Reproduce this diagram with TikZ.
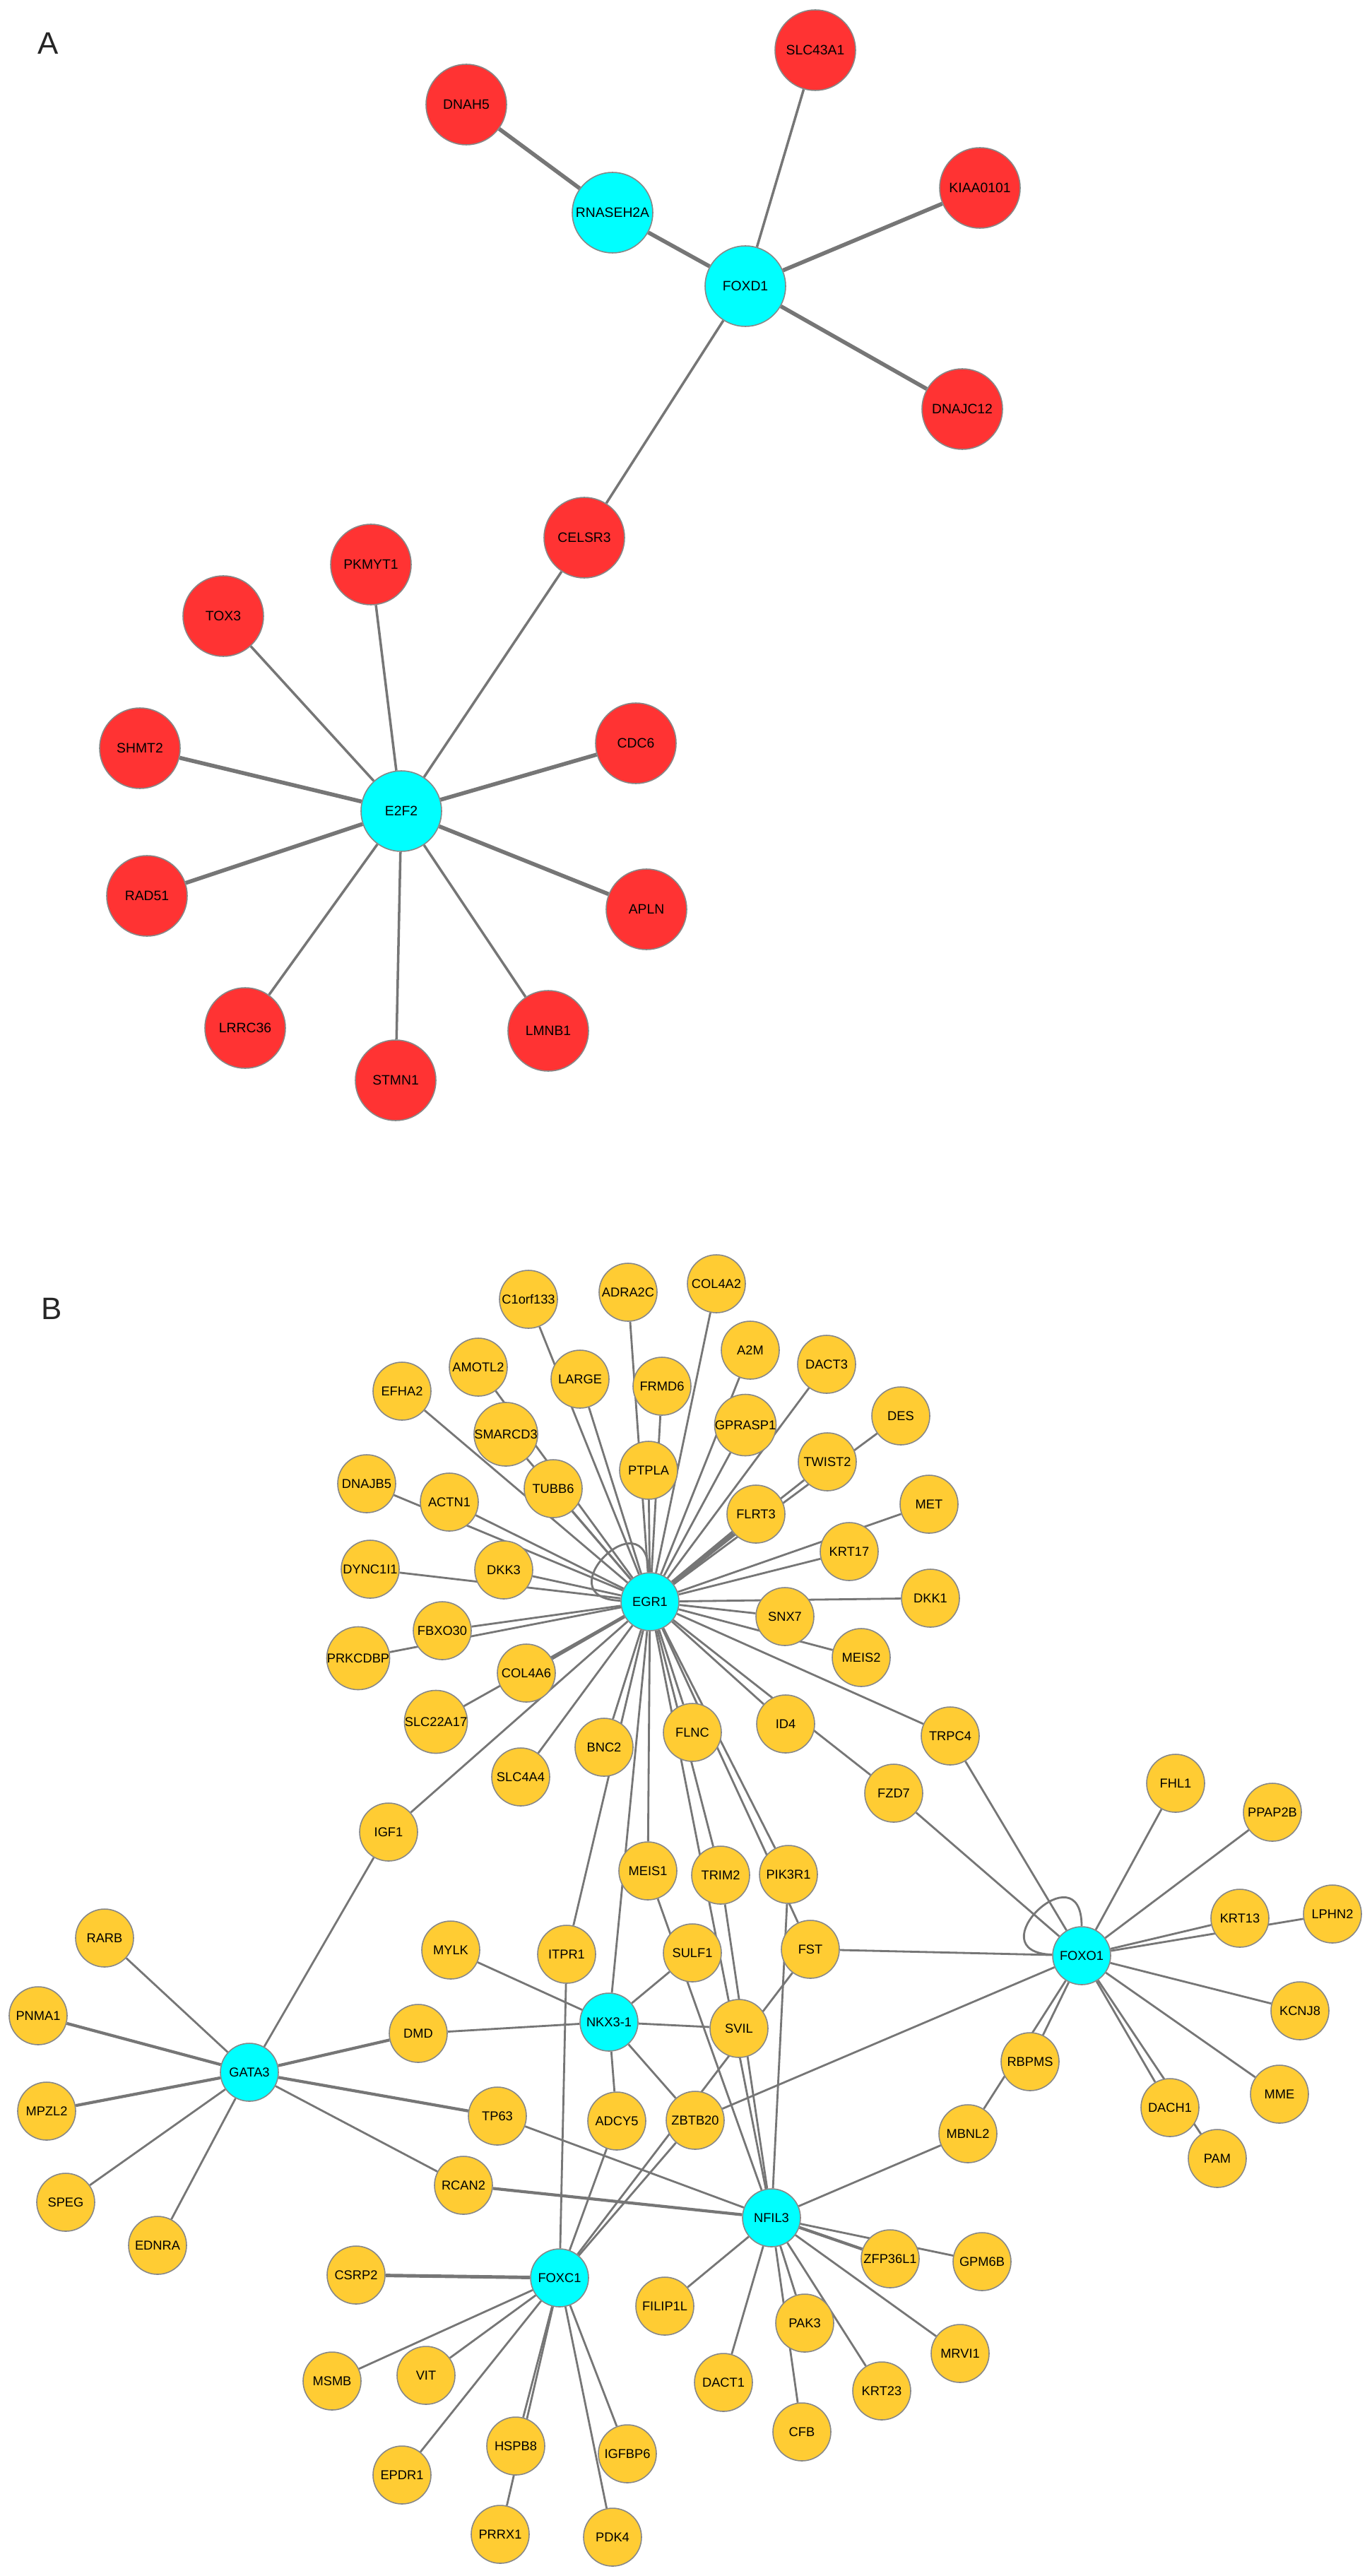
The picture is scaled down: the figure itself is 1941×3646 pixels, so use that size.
\documentclass[tikz,border=0pt]{standalone}
\usepackage{fontspec}
\setmainfont{Liberation Sans}
\usetikzlibrary{backgrounds}

\definecolor{hub}{RGB}{0,255,255}
\definecolor{redgene}{RGB}{255,51,51}
\definecolor{goldgene}{RGB}{255,204,51}
\definecolor{wire}{RGB}{118,118,118}
\definecolor{rim}{RGB}{135,135,135}

\tikzset{
  gene/.style={circle, draw=rim, line width=.45pt, inner sep=0pt, text=black},
  geneA/.style={gene, minimum size=11.4mm, font=\fontsize{5.5}{6}\selectfont},
  geneB/.style={gene, minimum size=8.2mm, font=\fontsize{5.2}{6}\selectfont},
  panel/.style={text=black!85, font=\fontsize{12.5}{14}\selectfont}
}

\begin{document}
\begin{tikzpicture}[x=.1mm,y=-.1mm]

      \node[panel] (labA) at (68,61)   {A};
      \node[panel] (labB) at (73,1852) {B};

      % panel A
      \begin{scope}[every node/.style={geneA, fill=redgene}]
        \node (slc43a1)  at (1154,71)   {SLC43A1};
        \node (dnah5)    at (660,148)   {DNAH5};
        \node (kiaa0101) at (1387,266)  {KIAA0101};
        \node (dnajc12)  at (1362,579)  {DNAJC12};
        \node (celsr3)   at (827,761)   {CELSR3};
        \node (pkmyt1)   at (525,799)   {PKMYT1};
        \node (tox3)     at (316,872)   {TOX3};
        \node (shmt2)    at (198,1059)  {SHMT2};
        \node (cdc6)     at (900,1052)  {CDC6};
        \node (rad51)    at (208,1268)  {RAD51};
        \node (apln)     at (915,1287)  {APLN};
        \node (lrrc36)   at (347,1455)  {LRRC36};
        \node (lmnb1)    at (776,1459)  {LMNB1};
        \node (stmn1)    at (560,1529)  {STMN1};
      \end{scope}
      \begin{scope}[every node/.style={geneA, fill=hub}]
        \node (rnaseh2a) at (867,301)   {RNASEH2A};
        \node (foxd1)    at (1055,405)  {FOXD1};
        \node (e2f2)     at (568,1148)  {E2F2};
      \end{scope}

      % panel B
      \begin{scope}[every node/.style={geneB, fill=hub}]
        \node (egr1)  at (920,2267)  {EGR1};
        \node (foxo1) at (1531,2768) {FOXO1};
        \node (nkx31) at (862,2862)  {NKX3-1};
        \node (gata3) at (353,2933)  {GATA3};
        \node (nfil3) at (1092,3139) {NFIL3};
        \node (foxc1) at (792,3224)  {FOXC1};
      \end{scope}
      \begin{scope}[every node/.style={geneB, fill=goldgene}]
        \node (c1orf133) at (748,1839)  {C1orf133};
        \node (adra2c)   at (889,1829)  {ADRA2C};
        \node (col4a2)   at (1014,1817) {COL4A2};
        \node (a2m)      at (1062,1911) {A2M};
        \node (dact3)    at (1170,1931) {DACT3};
        \node (amotl2)   at (677,1935)  {AMOTL2};
        \node (efha2)    at (569,1969)  {EFHA2};
        \node (large)    at (821,1952)  {LARGE};
        \node (frmd6)    at (937,1962)  {FRMD6};
        \node (smarcd3)  at (716,2030)  {SMARCD3};
        \node (gprasp1)  at (1055,2017) {GPRASP1};
        \node (des)      at (1275,2004) {DES};
        \node (twist2)   at (1171,2069) {TWIST2};
        \node (dnajb5)   at (519,2100)  {DNAJB5};
        \node (actn1)    at (636,2126)  {ACTN1};
        \node (tubb6)    at (783,2107)  {TUBB6};
        \node (ptpla)    at (918,2081)  {PTPLA};
        \node (flrt3)    at (1070,2143) {FLRT3};
        \node (met)      at (1315,2129) {MET};
        \node (krt17)    at (1202,2196) {KRT17};
        \node (dync1i1)  at (524,2221)  {DYNC1I1};
        \node (dkk3)     at (713,2222)  {DKK3};
        \node (dkk1)     at (1317,2262) {DKK1};
        \node (fbxo30)   at (626,2308)  {FBXO30};
        \node (snx7)     at (1111,2288) {SNX7};
        \node (prkcdbp)  at (507,2347)  {PRKCDBP};
        \node (meis2)    at (1219,2346) {MEIS2};
        \node (col4a6)   at (745,2368)  {COL4A6};
        \node (slc22a17) at (617,2437)  {SLC22A17};
        \node (id4)      at (1112,2440) {ID4};
        \node (trpc4)    at (1345,2457) {TRPC4};
        \node (flnc)     at (980,2452)  {FLNC};
        \node (bnc2)     at (855,2473)  {BNC2};
        \node (slc4a4)   at (737,2515)  {SLC4A4};
        \node (fzd7)     at (1265,2538) {FZD7};
        \node (fhl1)     at (1664,2524) {FHL1};
        \node (ppap2b)   at (1801,2565) {PPAP2B};
        \node (igf1)     at (550,2593)  {IGF1};
        \node (meis1)    at (917,2648)  {MEIS1};
        \node (trim2)    at (1020,2654) {TRIM2};
        \node (pik3r1)   at (1116,2653) {PIK3R1};
        \node (krt13)    at (1755,2715) {KRT13};
        \node (lphn2)    at (1886,2709) {LPHN2};
        \node (rarb)     at (148,2743)  {RARB};
        \node (mylk)     at (638,2760)  {MYLK};
        \node (itpr1)    at (802,2766)  {ITPR1};
        \node (sulf1)    at (980,2764)  {SULF1};
        \node (fst)      at (1147,2759) {FST};
        \node (kcnj8)    at (1840,2846) {KCNJ8};
        \node (pnma1)    at (54,2853)   {PNMA1};
        \node (dmd)      at (592,2878)  {DMD};
        \node (svil)     at (1046,2871) {SVIL};
        \node (rbpms)    at (1458,2918) {RBPMS};
        \node (mpzl2)    at (66,2988)   {MPZL2};
        \node (tp63)     at (704,2995)  {TP63};
        \node (adcy5)    at (873,3002)  {ADCY5};
        \node (zbtb20)   at (984,3001)  {ZBTB20};
        \node (mme)      at (1811,2964) {MME};
        \node (dach1)    at (1656,2983) {DACH1};
        \node (mbnl2)    at (1370,3020) {MBNL2};
        \node (pam)      at (1723,3055) {PAM};
        \node (rcan2)    at (656,3093)  {RCAN2};
        \node (speg)     at (93,3117)   {SPEG};
        \node (ednra)    at (223,3178)  {EDNRA};
        \node (zfp36l1)  at (1260,3197) {ZFP36L1};
        \node (gpm6b)    at (1390,3201) {GPM6B};
        \node (csrp2)    at (504,3220)  {CSRP2};
        \node (filip1l)  at (941,3264)  {FILIP1L};
        \node (pak3)     at (1139,3288) {PAK3};
        \node (mrvi1)    at (1359,3331) {MRVI1};
        \node (msmb)     at (470,3370)  {MSMB};
        \node (vit)      at (603,3362)  {VIT};
        \node (dact1)    at (1024,3372) {DACT1};
        \node (krt23)    at (1248,3384) {KRT23};
        \node (cfb)      at (1135,3442) {CFB};
        \node (hspb8)    at (730,3462)  {HSPB8};
        \node (igfbp6)   at (888,3473)  {IGFBP6};
        \node (epdr1)    at (569,3503)  {EPDR1};
        \node (prrx1)    at (708,3587)  {PRRX1};
        \node (pdk4)     at (867,3591)  {PDK4};
      \end{scope}

      \begin{scope}[on background layer]
        \fill[white] (0,0) rectangle (1941,3646);

        \begin{scope}[every edge/.style={draw=wire, line width=1pt}]
          \path (dnah5)  edge[line width=1.6pt] (rnaseh2a);
          \path (rnaseh2a) edge[line width=1.6pt] (foxd1);
          \path (foxd1)  edge (slc43a1);
          \path (foxd1)  edge[line width=1.6pt] (kiaa0101);
          \path (foxd1)  edge[line width=1.6pt] (dnajc12);
          \path (foxd1)  edge (celsr3);
          \path (celsr3) edge (e2f2);
          \path (e2f2)   edge (pkmyt1);
          \path (e2f2)   edge (tox3);
          \path (e2f2)   edge[line width=1.6pt] (shmt2);
          \path (e2f2)   edge[line width=1.6pt] (cdc6);
          \path (e2f2)   edge[line width=1.6pt] (rad51);
          \path (e2f2)   edge[line width=1.6pt] (apln);
          \path (e2f2)   edge (lrrc36);
          \path (e2f2)   edge (stmn1);
          \path (e2f2)   edge (lmnb1);
        \end{scope}

        \begin{scope}[every edge/.style={draw=wire, line width=.8pt}]
          \path (egr1)  edge[out=92, in=178, min distance=11mm] (egr1);
          \path (egr1)  edge (c1orf133);
          \path (egr1)  edge (large);
          \path (egr1)  edge (adra2c);
          \path (egr1)  edge (col4a2);
          \path (egr1)  edge (frmd6);
          \path (egr1)  edge (ptpla);
          \path (egr1)  edge (a2m);
          \path (egr1)  edge (gprasp1);
          \path (egr1)  edge (dact3);
          \path (egr1)  edge (des);
          \path (egr1)  edge (twist2);
          \path (egr1)  edge[line width=2pt] (flrt3);
          \path (egr1)  edge (met);
          \path (egr1)  edge (krt17);
          \path (egr1)  edge (dkk1);
          \path (egr1)  edge (snx7);
          \path (egr1)  edge (meis2);
          \path (egr1)  edge (trpc4);
          \path (egr1)  edge (id4);
          \path (egr1)  edge (fzd7);
          \path (egr1)  edge (pik3r1);
          \path (egr1)  edge (fst);
          \path (egr1)  edge (flnc);
          \path (egr1)  edge (trim2);
          \path (egr1)  edge (nfil3);
          \path (egr1)  edge (meis1);
          \path (egr1)  edge (nkx31);
          \path (egr1)  edge (itpr1);
          \path (egr1)  edge (bnc2);
          \path (egr1)  edge (slc4a4);
          \path (egr1)  edge (igf1);
          \path (egr1)  edge[line width=1.4pt] (col4a6);
          \path (egr1)  edge (slc22a17);
          \path (egr1)  edge (prkcdbp);
          \path (egr1)  edge (fbxo30);
          \path (egr1)  edge (dync1i1);
          \path (egr1)  edge (dkk3);
          \path (egr1)  edge (dnajb5);
          \path (egr1)  edge (actn1);
          \path (egr1)  edge (efha2);
          \path (egr1)  edge (amotl2);
          \path (egr1)  edge (smarcd3);
          \path (egr1)  edge (tubb6);

          \path (foxo1) edge[out=90, in=178, min distance=11mm] (foxo1);
          \path (foxo1) edge (trpc4);
          \path (foxo1) edge (fzd7);
          \path (foxo1) edge (fst);
          \path (foxo1) edge (zbtb20);
          \path (foxo1) edge (fhl1);
          \path (foxo1) edge (ppap2b);
          \path (foxo1) edge (krt13);
          \path (foxo1) edge (lphn2);
          \path (foxo1) edge (kcnj8);
          \path (foxo1) edge (mme);
          \path (foxo1) edge (dach1);
          \path (foxo1) edge (pam);
          \path (foxo1) edge (rbpms);
          \path (foxo1) edge (mbnl2);

          \path (nkx31) edge (mylk);
          \path (nkx31) edge (dmd);
          \path (nkx31) edge (sulf1);
          \path (nkx31) edge (svil);
          \path (nkx31) edge (adcy5);
          \path (nkx31) edge (zbtb20);

          \path (gata3) edge (rarb);
          \path (gata3) edge[line width=1.2pt] (pnma1);
          \path (gata3) edge[line width=1.2pt] (mpzl2);
          \path (gata3) edge (speg);
          \path (gata3) edge (ednra);
          \path (gata3) edge (igf1);
          \path (gata3) edge[line width=1.2pt] (dmd);
          \path (gata3) edge[line width=1.2pt] (tp63);
          \path (gata3) edge (rcan2);

          \path (nfil3) edge (tp63);
          \path (nfil3) edge[line width=1.2pt] (rcan2);
          \path (nfil3) edge (meis1);
          \path (nfil3) edge (trim2);
          \path (nfil3) edge (pik3r1);
          \path (nfil3) edge (mbnl2);
          \path (nfil3) edge[line width=1.2pt] (zfp36l1);
          \path (nfil3) edge (gpm6b);
          \path (nfil3) edge (filip1l);
          \path (nfil3) edge (dact1);
          \path (nfil3) edge (pak3);
          \path (nfil3) edge (cfb);
          \path (nfil3) edge (krt23);
          \path (nfil3) edge (mrvi1);

          \path (foxc1) edge (itpr1);
          \path (foxc1) edge (adcy5);
          \path (foxc1) edge (zbtb20);
          \path (foxc1) edge (fst);
          \path (foxc1) edge[line width=1.4pt] (csrp2);
          \path (foxc1) edge (msmb);
          \path (foxc1) edge (vit);
          \path (foxc1) edge (epdr1);
          \path (foxc1) edge (hspb8);
          \path (foxc1) edge (prrx1);
          \path (foxc1) edge (igfbp6);
          \path (foxc1) edge (pdk4);
        \end{scope}
      \end{scope}

    \end{tikzpicture}
\end{document}
